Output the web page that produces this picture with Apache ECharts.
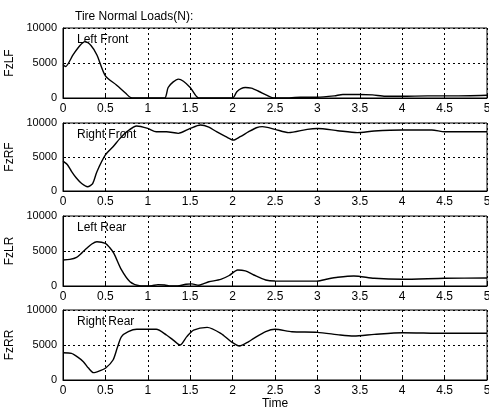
<!DOCTYPE html>
<html>
<head>
<meta charset="utf-8">
<script src="https://cdn.jsdelivr.net/npm/echarts@6/dist/echarts.min.js"></script>
<style>
  html, body { margin: 0; padding: 0; background: #fff; }
  #chart { width: 489px; height: 416px; }
</style>
</head>
<body>
<div id="chart"></div>
<script>
// Tire normal loads over time, one panel per wheel
const panelNames = ['Left Front', 'Right Front', 'Left Rear', 'Right Rear'];
const axisNames = ['FzLF', 'FzRF', 'FzLR', 'FzRR'];
const xTicks = [0, 0.5, 1, 1.5, 2, 2.5, 3, 3.5, 4, 4.5, 5];
const yTicks = [0, 5000, 10000];

const timeLF = [0, 0.03, 0.12, 0.2, 0.26, 0.33, 0.4, 0.5, 0.63, 0.74, 0.8, 0.9, 1.0, 1.1, 1.2, 1.24, 1.3, 1.36, 1.42, 1.5, 1.6, 1.7, 1.8, 1.9, 2.0, 2.05, 2.1, 2.15, 2.22, 2.3, 2.4, 2.48, 2.6, 2.8, 3.0, 3.2, 3.3, 3.5, 3.65, 3.8, 4.0, 4.3, 4.6, 5.0];
const loadLF = [4800, 4500, 6200, 7500, 8050, 7500, 6140, 3150, 1860, 670, 50, 0, 0, 0, 0, 1500, 2300, 2700, 2400, 1500, 0, 0, 0, 0, 0, 900, 1350, 1500, 1400, 1000, 400, 0, 0, 100, 100, 300, 500, 500, 450, 250, 250, 300, 300, 400];

const timeRF = [0, 0.05, 0.1, 0.16, 0.22, 0.29, 0.35, 0.4, 0.5, 0.59, 0.67, 0.75, 0.87, 1.0, 1.1, 1.22, 1.36, 1.5, 1.62, 1.72, 1.81, 1.92, 2.01, 2.09, 2.19, 2.28, 2.35, 2.5, 2.66, 2.88, 3.0, 3.24, 3.47, 3.67, 4.0, 4.35, 4.5, 5.0];
const loadRF = [4400, 3900, 2900, 1870, 1100, 630, 1100, 2840, 5300, 6500, 7700, 8700, 9560, 9200, 8720, 8720, 8480, 9200, 9700, 9400, 8720, 8000, 7500, 7990, 8720, 9300, 9460, 9070, 8580, 9070, 9200, 8870, 8580, 8820, 8970, 8970, 8720, 8720];

const timeLR = [0, 0.08, 0.16, 0.22, 0.28, 0.34, 0.4, 0.5, 0.55, 0.6, 0.69, 0.79, 0.9, 1.0, 1.05, 1.12, 1.2, 1.27, 1.35, 1.45, 1.52, 1.6, 1.66, 1.72, 1.86, 1.96, 2.06, 2.15, 2.25, 2.39, 2.5, 2.75, 3.0, 3.12, 3.24, 3.43, 3.67, 4.0, 4.5, 5.0];
const loadLR = [3710, 3800, 4100, 4700, 5380, 6000, 6330, 6100, 5500, 4670, 2290, 610, 50, 0, 50, 200, 150, 0, 0, 250, 300, 100, 350, 600, 950, 1500, 2290, 2150, 1570, 860, 710, 700, 710, 1000, 1240, 1430, 1100, 960, 1100, 1140];

const timeRR = [0, 0.1, 0.17, 0.24, 0.3, 0.36, 0.43, 0.5, 0.59, 0.64, 0.69, 0.77, 0.87, 1.0, 1.1, 1.22, 1.3, 1.38, 1.46, 1.54, 1.7, 1.86, 1.98, 2.08, 2.19, 2.25, 2.39, 2.5, 2.7, 3.0, 3.27, 3.43, 3.67, 4.0, 4.5, 5.0];
const loadRR = [3900, 3810, 3300, 2620, 1700, 1050, 1300, 1670, 2860, 4600, 6190, 6900, 7240, 7240, 7240, 6430, 5700, 5000, 6200, 7140, 7520, 6670, 5500, 4860, 5480, 5950, 6900, 7240, 6900, 6810, 6430, 6290, 6520, 6760, 6670, 6670];

const times = [timeLF, timeRF, timeLR, timeRR];
const loads = [loadLF, loadRF, loadLR, loadRR];

const FONT = '"Liberation Sans", Arial, sans-serif';
const gridTops = [28, 123, 216, 310];
const gridHeights = [70, 68, 70, 70];
const dotted = { color: '#000', width: 1, type: [2, 3] };

const grids = [], xAxes = [], yAxes = [], series = [], titles = [];

titles.push({
  text: 'Tire Normal Loads(N):', left: 70, top: 6,
  textStyle: { fontFamily: FONT, fontSize: 12, fontWeight: 'normal', color: '#000' }
});

for (let i = 0; i < 4; i++) {
  grids.push({ left: 63, right: 2, top: gridTops[i], height: gridHeights[i],
    outerBoundsMode: 'none', containLabel: false,
    show: true, borderColor: '#000', borderWidth: 1, backgroundColor: 'transparent' });
  xAxes.push({
    gridIndex: i, type: 'value', min: xTicks[0], max: xTicks[xTicks.length - 1],
    interval: xTicks[1] - xTicks[0],
    axisLine: { show: true, onZero: false, lineStyle: { color: '#000', width: 1 } },
    axisTick: { show: true, inside: true, length: 3, lineStyle: { color: '#000' } },
    axisLabel: { color: '#000', fontFamily: FONT, fontSize: 12, margin: 5,
      formatter: v => String(v) },
    splitLine: { show: true, lineStyle: dotted },
    name: i === 3 ? 'Time' : '', nameLocation: 'middle', nameGap: 18,
    nameTextStyle: { color: '#000', fontFamily: FONT, fontSize: 12 }
  });
  yAxes.push({
    gridIndex: i, type: 'value', min: yTicks[0], max: yTicks[yTicks.length - 1],
    interval: yTicks[1] - yTicks[0],
    axisLine: { show: true, onZero: false, lineStyle: { color: '#000', width: 1 } },
    axisTick: { show: true, inside: true, length: 3, lineStyle: { color: '#000' } },
    axisLabel: { color: '#000', fontFamily: FONT, fontSize: 11, margin: 6,
      formatter: v => String(v) },
    splitLine: { show: true, lineStyle: dotted },
    name: axisNames[i], nameLocation: 'middle', nameRotate: 90, nameGap: 42,
    nameTextStyle: { color: '#000', fontFamily: FONT, fontSize: 12 }
  });
  series.push({
    type: 'line', xAxisIndex: i, yAxisIndex: i,
    data: times[i].map((t, k) => [t, loads[i][k]]),
    smooth: 0.25, symbol: 'none', clip: true,
    lineStyle: { color: '#000', width: 1.4 }
  });
  titles.push({
    text: panelNames[i], left: 72, top: gridTops[i] + 1,
    textStyle: { fontFamily: FONT, fontSize: 12, fontWeight: 'normal', color: '#000' }
  });
}

const chart = echarts.init(document.getElementById('chart'), null, { renderer: 'canvas' });
chart.setOption({
  animation: false,
  backgroundColor: '#fff',
  title: titles,
  grid: grids,
  xAxis: xAxes,
  yAxis: yAxes,
  series: series
});
</script>
</body>
</html>
